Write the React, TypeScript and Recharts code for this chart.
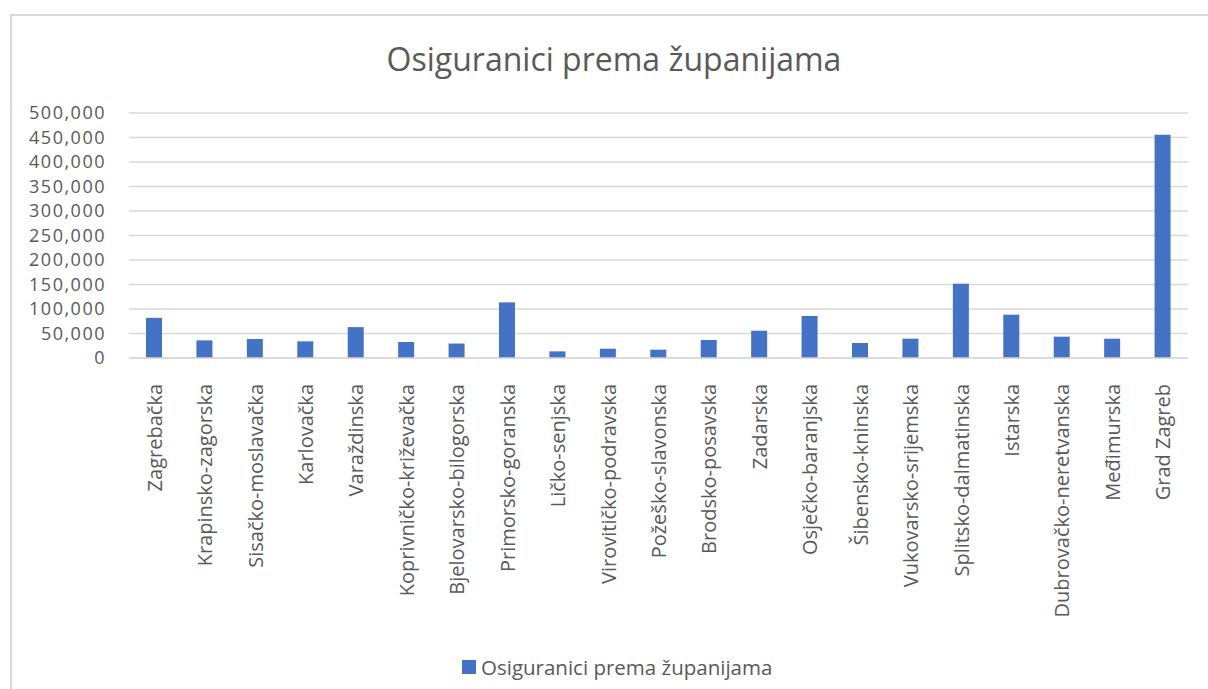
import { BarChart, Bar, XAxis, YAxis, CartesianGrid } from 'recharts';

const counties = [
  'Zagrebačka',
  'Krapinsko-zagorska',
  'Sisačko-moslavačka',
  'Karlovačka',
  'Varaždinska',
  'Koprivničko-križevačka',
  'Bjelovarsko-bilogorska',
  'Primorsko-goranska',
  'Ličko-senjska',
  'Virovitičko-podravska',
  'Požeško-slavonska',
  'Brodsko-posavska',
  'Zadarska',
  'Osječko-baranjska',
  'Šibensko-kninska',
  'Vukovarsko-srijemska',
  'Splitsko-dalmatinska',
  'Istarska',
  'Dubrovačko-neretvanska',
  'Međimurska',
  'Grad Zagreb',
];

const insured = [
  82000, 36000, 38800, 34000, 63000, 32700, 29500, 113500, 13500, 19000, 17000,
  36700, 55700, 85700, 30600, 39400, 151600, 88400, 43500, 39400, 455800,
];

const yTicks = [0, 50000, 100000, 150000, 200000, 250000, 300000, 350000, 400000, 450000, 500000];

const seriesName = 'Osiguranici prema županijama';
const title = 'Osiguranici prema županijama';

const FONT = '"Open Sans", sans-serif';
const TEXT = '#595959';
const BLUE = '#4472C4';
const GRID = '#d9d9d9';

const chartData = counties.map((name, i) => ({ name, value: insured[i] }));

function CountyTick(props: any) {
  const { x, y, payload } = props;
  return (
    <text
      x={0}
      y={0}
      transform={`translate(${x},${y + 18}) rotate(-90)`}
      textAnchor="end"
      dominantBaseline="central"
      fill={TEXT}
      fontSize={20}
      fontFamily={FONT}
    >
      {payload.value}
    </text>
  );
}

export default function App() {
  return (
    <div style={{ position: 'absolute', left: 0, top: 0, width: 1208, height: 689, background: '#fff', overflow: 'hidden' }}>
      <div
        style={{
          position: 'absolute',
          left: 10,
          top: 14,
          width: 1240,
          height: 720,
          border: '2px solid #d9d9d9',
          boxSizing: 'border-box',
        }}
      />
      <div
        style={{
          position: 'absolute',
          left: 0,
          top: 37,
          width: 1228,
          textAlign: 'center',
          fontFamily: FONT,
          fontSize: 32,
          color: TEXT,
          lineHeight: '44px',
        }}
      >
        {title}
      </div>
      <div style={{ position: 'absolute', left: 0, top: 0 }}>
        <BarChart
          width={1208}
          height={689}
          data={chartData}
          margin={{ top: 113, right: 20, bottom: 0, left: 19 }}
          barSize={16}
        >
          <CartesianGrid vertical={false} stroke={GRID} strokeWidth={1.5} />
          <XAxis
            dataKey="name"
            interval={0}
            height={331}
            tickLine={false}
            axisLine={{ stroke: GRID, strokeWidth: 1.5 }}
            tick={<CountyTick />}
          />
          <YAxis
            width={110}
            domain={[0, 500000]}
            ticks={yTicks}
            interval={0}
            tickLine={false}
            axisLine={false}
            tickSize={0}
            tickMargin={23}
            tickFormatter={(v: number) => v.toLocaleString('en-US')}
            tick={{ fill: TEXT, fontSize: 18, fontFamily: FONT, letterSpacing: 1.5 }}
          />
          <Bar dataKey="value" name={seriesName} fill={BLUE} isAnimationActive={false} />
        </BarChart>
      </div>
      <div
        style={{
          position: 'absolute',
          left: 462,
          top: 652,
          display: 'flex',
          alignItems: 'center',
          fontFamily: FONT,
          fontSize: 20.5,
          color: TEXT,
          lineHeight: '30px',
        }}
      >
        <span style={{ display: 'inline-block', width: 14, height: 14, background: BLUE, marginRight: 5 }} />
        {seriesName}
      </div>
    </div>
  );
}
